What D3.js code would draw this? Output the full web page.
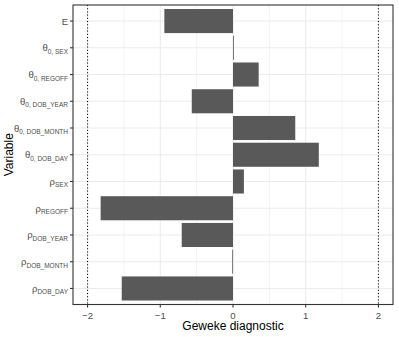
<!DOCTYPE html>
<html><head><meta charset="utf-8">
<script src="https://cdn.jsdelivr.net/npm/d3@7"></script>
<style>body{margin:0;background:#fff}svg{display:block;font-family:"Liberation Sans",Arial,sans-serif}</style>
</head><body>
<svg id="c" width="399" height="337"></svg>
<script>
// categories top to bottom
const symbols = ["E","θ","θ","θ","θ","θ","ρ","ρ","ρ","ρ","ρ"];
const subscripts = ["", "0, SEX", "0, REGOFF", "0, DOB_YEAR", "0, DOB_MONTH", "0, DOB_DAY", "SEX", "REGOFF", "DOB_YEAR", "DOB_MONTH", "DOB_DAY"];
const categories = symbols.map((s,i)=>s+"_"+subscripts[i]);
const values = [-0.944, 0.01, 0.353, -0.567, 0.856, 1.18, 0.15, -1.82, -0.705, -0.01, -1.53];
const xTicks = [-2,-1,0,1,2];
const xMinor = [-1.5,-0.5,0.5,1.5];
const refLines = [-2, 2];

const svg = d3.select("#c");
const L=73, R=393, T=5, B=304.5;
const x = d3.scaleLinear().domain([-2.2,2.2]).range([L,R]);
// ggplot discrete expansion: 0.6 units each side
const y = d3.scalePoint().domain(categories).range([T,B]).padding(0.6);
const step = y.step();
const yc = (i)=> y(categories[i]);

const g = svg.append("g");
g.selectAll(".mn").data(xMinor).enter().append("line")
 .attr("x1",d=>x(d)).attr("x2",d=>x(d)).attr("y1",T).attr("y2",B)
 .attr("stroke","#ebebeb").attr("stroke-width",0.6);
g.selectAll(".mj").data(xTicks).enter().append("line")
 .attr("x1",d=>x(d)).attr("x2",d=>x(d)).attr("y1",T).attr("y2",B)
 .attr("stroke","#ebebeb").attr("stroke-width",1.1);
g.selectAll(".hj").data(categories).enter().append("line")
 .attr("x1",L).attr("x2",R).attr("y1",d=>y(d)).attr("y2",d=>y(d))
 .attr("stroke","#ebebeb").attr("stroke-width",1.1);
const bw = step*0.9;
g.selectAll(".bar").data(values).enter().append("rect")
 .attr("x",d=>x(Math.min(0,d))).attr("width",d=>Math.max(0.8,Math.abs(x(d)-x(0))))
 .attr("y",(d,i)=>yc(i)-bw/2).attr("height",bw)
 .attr("fill","#595959");
g.selectAll(".ref").data(refLines).enter().append("line")
 .attr("x1",d=>x(d)).attr("x2",d=>x(d)).attr("y1",T).attr("y2",B)
 .attr("stroke","#000").attr("stroke-width",1.1).attr("stroke-dasharray","1,2.2");
svg.append("rect").attr("x",L).attr("y",T).attr("width",R-L).attr("height",B-T)
 .attr("fill","none").attr("stroke","#333").attr("stroke-width",1.1);

const xa = svg.append("g");
xa.selectAll("line").data(xTicks).enter().append("line")
 .attr("x1",d=>x(d)).attr("x2",d=>x(d)).attr("y1",B).attr("y2",B+3)
 .attr("stroke","#333").attr("stroke-width",1.1);
xa.selectAll("text").data(xTicks).enter().append("text")
 .attr("x",d=>x(d)).attr("y",B+14).attr("text-anchor","middle")
 .attr("font-size",9.5).attr("fill","#4d4d4d")
 .text(d=>d<0?"\u2212"+Math.abs(d):d);
const ya = svg.append("g");
categories.forEach((c,i)=>{
  ya.append("line").attr("x1",L-3).attr("x2",L).attr("y1",yc(i)).attr("y2",yc(i))
   .attr("stroke","#333").attr("stroke-width",1.1);
  const t = ya.append("text").attr("x",L-5).attr("y",yc(i)+3.5).attr("text-anchor","end")
   .attr("fill","#4d4d4d");
  t.append("tspan").attr("font-size",9.5).text(symbols[i]);
  if(subscripts[i]) t.append("tspan").attr("font-size",6.5).attr("dy",2.5).text(subscripts[i]);
});
svg.append("text").attr("x",(L+R)/2).attr("y",330).attr("text-anchor","middle")
 .attr("font-size",12).attr("fill","#000").text("Geweke diagnostic");
svg.append("text").attr("transform",`translate(13,${(T+B)/2}) rotate(-90)`).attr("text-anchor","middle")
 .attr("font-size",12).attr("fill","#000").text("Variable");
</script>
</body></html>
